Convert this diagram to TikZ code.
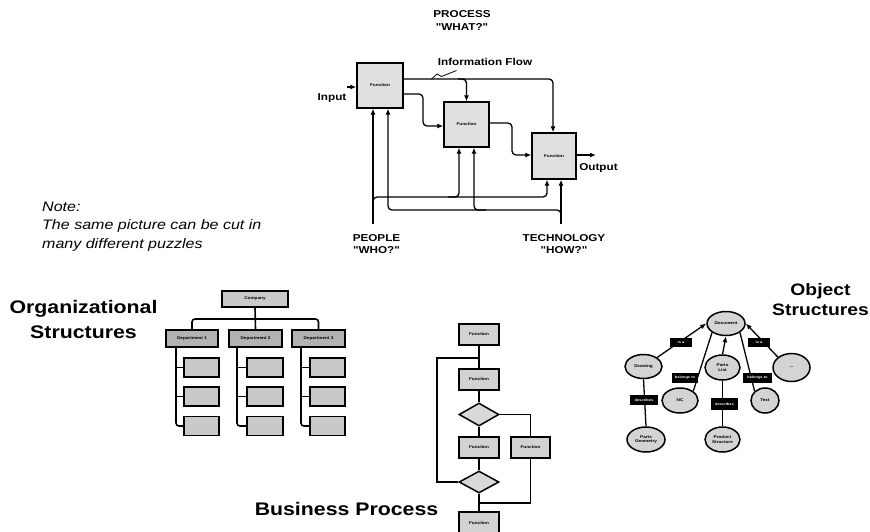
\documentclass[tikz,border=0pt]{standalone}
\usepackage{fontspec}
\setmainfont{Liberation Sans}[FakeStretch=1.17, Ligatures=TeXOff]
\usetikzlibrary{arrows.meta,shapes.geometric}

\begin{document}
\begin{tikzpicture}[x=1pt,y=-1pt,
  tip/.style={-{Latex[length=6pt,width=5pt]}},
  flow/.style={line width=1.3pt, rounded corners=4pt},
  tinyfont/.style={font=\fontsize{4}{4.4}\selectfont\bfseries},
  pbox/.style={draw, line width=1.4pt, fill=gray!24, inner sep=0pt, tinyfont},
  lbl/.style={font=\fontsize{10}{12.5}\selectfont\bfseries, align=center, inner sep=0pt},
  head/.style={font=\fontsize{18.2}{25}\selectfont\bfseries, align=center, inner sep=0pt},
  org/.style={line width=1.6pt, rounded corners=3pt},
  obox/.style={draw, line width=1.6pt, fill=gray!42, inner sep=0pt, tinyfont},
  dbox/.style={obox, fill=gray!60},
  bline/.style={line width=1.4pt},
  bbox/.style={draw, line width=1.5pt, fill=gray!35, inner sep=0pt,
    minimum width=40pt, minimum height=21pt, tinyfont},
  bdia/.style={draw, line width=1.5pt, fill=gray!30, diamond, inner sep=0pt,
    minimum width=40pt, minimum height=23pt},
  ell/.style={draw, line width=1.5pt, fill=gray!34, ellipse, inner sep=0pt,
    align=center, tinyfont},
  elab/.style={fill=black, text=white, inner sep=0.8pt, align=center,
    font=\fontsize{3.4}{3.8}\selectfont\bfseries},
  oline/.style={line width=1.3pt}
]
\useasboundingbox (0,0) rectangle (870,531);
\fill[white] (0,0) rectangle (870,531);
\clip (0,0) rectangle (870,531);

% ---------- process: what / who / how ----------
\node[lbl, anchor=base] (proc) at (462,30) {PROCESS\\"WHAT?"};
\node[pbox, minimum width=46pt, minimum height=45pt] (P1) at (380,85.5) {Function};
\node[pbox, minimum width=45pt, minimum height=45pt] (P2) at (466.5,124.5) {Function};
\node[pbox, minimum width=44pt, minimum height=46pt] (P3) at (554,156) {Function};

\node[lbl, anchor=base] (in) at (332,100) {Input};
\coordinate (inS) at (347,87);
\draw[bline, tip] (inS) -- (inS -| P1.west);

\node[lbl, anchor=base] (info) at (485,65) {Information Flow};
\coordinate (zz) at (431.5,79);
\draw[line width=0.8pt] (zz) -- (437,74) -- (441.5,76.5) -- (456.5,70.5);

\draw[flow, tip] (P1.east |- 0,79) -- (553,79) -- (P3.north -| 553,0);
\draw[flow, tip] (458,79) -- (466.5,79) -- (P2.north);
\draw[flow, tip] (P1.east |- 0,94) -- (423,94) -- (423,126) -- (P2.west |- 0,126);
\draw[flow, tip] (P2.east |- 0,123) -- (512,123) -- (512,155) -- (P3.west |- 0,155);
\coordinate (outE) at (596,155);
\draw[bline, tip] (P3.east |- 0,155) -- (outE);
\node[lbl, anchor=base] (out) at (598.5,170) {Output};

% people
\node[lbl, anchor=base] (people) at (376.5,253.5) {PEOPLE\\"WHO?"};
\coordinate (pplB) at (373,224);
\draw[flow, tip] (pplB) -- (P1.south -| 373,0);
\draw[flow, tip] (373,205) -- (373,197) -- (547,197) -- (P3.south -| 547,0);
\draw[flow, tip] (448,197) -- (459,197) -- (P2.south -| 459,0);

% technology
\node[lbl, anchor=base] (tech) at (564,253.5) {TECHNOLOGY\\"HOW?"};
\coordinate (techB) at (561,224);
\draw[flow, tip] (techB) -- (P3.south -| 561,0);
\draw[flow, tip] (561,218) -- (561,210) -- (388,210) -- (P1.south -| 388,0);
\draw[flow, tip] (486,210) -- (474,210) -- (P2.south -| 474,0);

% ---------- note ----------
\node[anchor=base west, align=left, inner sep=0pt,
  font=\fontsize{13.7}{18.5}\selectfont\itshape] (note) at (42,248)
  {Note:\\The same picture can be cut in\\many different puzzles};

% ---------- organizational structures ----------
\node[head, anchor=base] (orghd) at (83.5,338) {Organizational\\Structures};

\node[obox, minimum width=66pt, minimum height=16pt] (comp) at (255,299) {Company};
\node[dbox, minimum width=52pt, minimum height=17pt] (d1) at (192,338.5) {Department 1};
\node[dbox, minimum width=53pt, minimum height=17pt] (d2) at (255.5,338.5) {Department 2};
\node[dbox, minimum width=53pt, minimum height=17pt] (d3) at (318.5,338.5) {Department 3};

\draw[org] (comp.south) -- (d2.north);
\draw[org] (d1.north) -- (d1.north |- 0,319) -- (d3.north |- 0,319) -- (d3.north);

\foreach \d/\vx/\cx/\w in {1/176/201.5/35, 2/237/265/36, 3/301/327.5/35}{
  \node[obox, minimum width=\w pt, minimum height=19pt] (s\d a) at (\cx,367.5) {};
  \node[obox, minimum width=\w pt, minimum height=19pt] (s\d b) at (\cx,396.5) {};
  \node[obox, minimum width=\w pt, minimum height=19pt] (s\d c) at (\cx,426) {};
  \draw[org] (d\d.south -| \vx,0) -- (\vx,426) -- (s\d c.west);
  \draw[org] (\vx,367.5) -- (s\d a.west);
  \draw[org] (\vx,396.5) -- (s\d b.west);
}

% ---------- business process ----------
\node[head, anchor=base] (bphd) at (346.5,515) {Business Process};

\node[bbox] (F1) at (479,334.5) {Function};
\node[bbox] (F2) at (479,379.5) {Function};
\node[bdia] (D1) at (479,414.5) {};
\node[bbox] (F3) at (479,447.5) {Function};
\node[bbox, minimum width=39pt] (F4) at (530.5,447.5) {Function};
\node[bdia, minimum height=22pt] (D2) at (479,482) {};
\node[bbox, minimum height=22pt] (F5) at (479,523) {Function};

\draw[bline] (F1.south) -- (F2.north);
\draw[bline] (F1.south |- 0,358) -- (437,358) -- (437,482) -- (D2.west);
\draw[bline] (F2.south) -- (D1.north);
\draw[bline] (D1.east) -- (F4.north |- D1.east) -- (F4.north);
\draw[bline] (D1.south) -- (F3.north);
\draw[bline] (F3.south) -- (D2.north);
\draw[bline] (F4.south) -- (F4.south |- 0,503) -- (479,503);
\draw[bline] (D2.south) -- (F5.north);

% ---------- object structures ----------
\node[head, anchor=base, font=\fontsize{16.5}{19.5}\selectfont\bfseries] (objhd) at (820.5,315) {Object\\Structures};

\node[ell, minimum width=38pt, minimum height=24pt] (doc) at (726,323.5) {Document};
\node[ell, minimum width=37pt, minimum height=24pt] (drw) at (643.5,366.5) {Drawing};
\node[ell, minimum width=35pt, minimum height=25pt] (plist) at (722.5,367.5) {Parts\\List};
\node[ell, minimum width=37pt, minimum height=28pt] (dots) at (791.5,367.5) {...};
\node[ell, minimum width=36pt, minimum height=25pt] (nc) at (680,400.5) {NC};
\node[ell, minimum width=28pt, minimum height=25pt] (txt) at (765,400.5) {Text};
\node[ell, minimum width=38pt, minimum height=25pt] (pgeo) at (646,439.5) {Parts\\Geometry};
\node[ell, minimum width=35pt, minimum height=25pt] (pstr) at (722.5,439.5) {Product\\Structure};

\draw[oline, tip] (drw.north east) -- (doc.west);
\draw[oline, tip] (dots.north west) -- (doc.east);
\draw[oline, tip] (plist.north) -- (doc.south);
\draw[oline] (nc.north east) -- (doc.south west);
\draw[oline] (txt.north west) -- (doc.south east);
\draw[oline] (drw.south) -- (pgeo.north);
\draw[oline] (plist.south) -- (pstr.north);

\node[elab, minimum width=22pt, minimum height=9pt] (l1) at (681,342.5) {is a};
\node[elab, minimum width=22pt, minimum height=9pt] (l2) at (759,342.5) {is a};
\node[elab, minimum width=26pt, minimum height=10pt] (l3) at (685,378) {belongs to};
\node[elab, minimum width=29pt, minimum height=10pt] (l4) at (757.5,378) {belongs to};
\node[elab, minimum width=28pt, minimum height=10pt] (l5) at (644,400) {describes};
\node[elab, minimum width=27pt, minimum height=12pt] (l6) at (724.5,404) {describes};
\end{tikzpicture}
\end{document}
